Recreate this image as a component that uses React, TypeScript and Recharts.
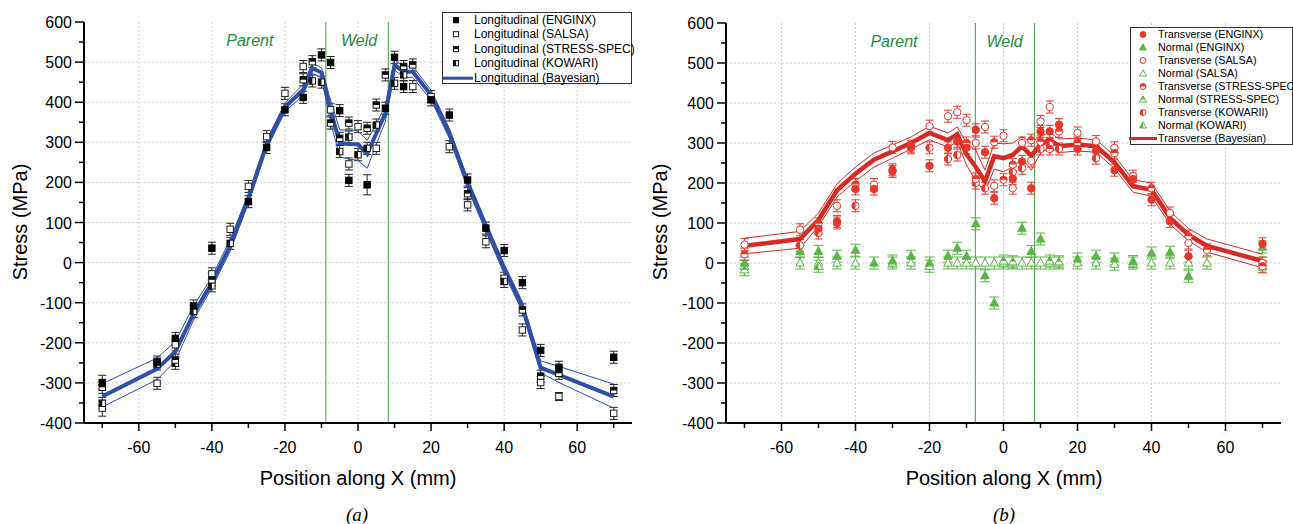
import React from "react";
import {
  ComposedChart,
  Line,
  Scatter,
  XAxis,
  YAxis,
  CartesianGrid,
  ErrorBar,
  ReferenceLine,
  ReferenceDot,
} from "recharts";

const FONT = "'Liberation Sans', Arial, Helvetica, sans-serif";
const SERIF = "'Liberation Serif', 'Times New Roman', serif";

// ---------- axis ticks ----------
const xTicks = [-70, -60, -50, -40, -30, -20, -10, 0, 10, 20, 30, 40, 50, 60, 70];
const xGrid = [-60, -40, -20, 0, 20, 40, 60];
const yTicks = [-400, -350, -300, -250, -200, -150, -100, -50, 0, 50, 100, 150, 200, 250, 300, 350, 400, 450, 500, 550, 600];
const yGrid = [-300, -200, -100, 0, 100, 200, 300, 400, 500];

// ---------- Bayesian fits ----------
const bayesX = [-70, -55, -50, -45, -40, -35, -30, -25, -20, -15, -12.5, -10, -7.5, -5, -2.5, 0, 2.5, 5, 7.5, 10, 12.5, 15, 20, 25, 30, 35, 40, 45, 50, 55, 70];
const longMean = [-334, -265, -222, -128, -50, 42, 160, 295, 388, 431, 485, 474, 380, 298, 296, 295, 271, 322, 372, 493, 476, 476, 418, 323, 198, 90, -15, -110, -262, -280, -334];
const longUpper = [-302, -238, -197, -108, -36, 58, 172, 305, 398, 445, 497, 486, 405, 331, 330, 328, 305, 345, 392, 505, 490, 490, 430, 335, 210, 102, -3, -98, -245, -259, -303];
const longLower = [-360, -292, -245, -143, -63, 28, 148, 283, 376, 418, 472, 460, 350, 264, 258, 255, 235, 295, 352, 480, 462, 462, 405, 310, 185, 78, -28, -122, -275, -299, -363];
const transMean = [43, 60, 108, 182, 223, 258, 279, 300, 325, 307, 322, 272, 240, 204, 267, 262, 270, 292, 268, 296, 308, 292, 296, 292, 252, 192, 183, 113, 70, 43, 5];
const transUpper = [62, 79, 125, 198, 240, 275, 295, 315, 342, 325, 340, 300, 282, 232, 300, 298, 300, 316, 300, 318, 326, 310, 312, 308, 268, 208, 200, 130, 86, 60, 22];
const transLower = [23, 37, 92, 165, 205, 240, 262, 285, 308, 290, 303, 245, 205, 178, 235, 228, 240, 262, 232, 275, 290, 276, 280, 277, 236, 177, 167, 97, 55, 27, -12];

// ---------- measurements [x, stress, error] ----------
type Pt = number[];
const longEnginx: Pt[] = [[-70, -299, 18], [-55, -248], [-50, -189], [-45, -108], [-40, 36], [-30, 152], [-25, 287], [-20, 381], [-15, 412], [-10, 518], [-7.5, 499], [-5, 379], [-2.5, 205], [2.5, 194, 25], [7.5, 385], [10, 512], [12.5, 439], [20, 406], [25, 368], [30, 206], [35, 86], [40, 30], [45, -50], [50, -219], [55, -261], [70, -236]];
const longSalsa: Pt[] = [[-70, -363, 20], [-55, -301], [-50, -205], [-40, -28], [-35, 83], [-30, 190], [-25, 314], [-20, 422], [-15, 489], [-7.5, 381], [-2.5, 246], [0, 339], [5, 285], [15, 439], [20, 414], [25, 289], [30, 144], [35, 52], [40, -39], [45, -168], [50, -299], [55, -334, 10], [70, -376]];
const longStress: Pt[] = [[-70, -311], [-50, -243], [-40, -43], [-15, 456], [-12.5, 501], [-7.5, 348], [-5, 310], [-2.5, 348], [2.5, 335], [5, 393], [7.5, 468], [12.5, 489], [15, 493], [30, 172], [45, -118], [50, -283], [55, -276], [70, -319]];
const longKowari: Pt[] = [[-70, -351], [-55, -253], [-50, -251], [-45, -122], [-40, -58], [-35, 48], [-12.5, 453], [-10, 450], [-5, 277], [-2.5, 313], [0, 269], [2.5, 285], [5, 343], [10, 447], [12.5, 468], [40, -47]];

const transEnginx: Pt[] = [[-50, 86], [-45, 100], [-40, 185], [-35, 185], [-30, 229], [-25, 288], [-20, 243], [-15, 288], [-12.5, 304], [-10, 288], [-7.5, 333], [-5, 277], [-2.5, 162], [2.5, 211], [5, 254], [7.5, 187], [10, 329], [12.5, 329], [15, 346], [20, 285], [25, 280], [30, 232], [35, 210], [40, 158], [45, 104], [50, 17], [70, 48]];
const transSalsa: Pt[] = [[-70, 46], [-55, 83], [-45, 143], [-35, 196], [-30, 289], [-20, 342], [-15, 367], [-12.5, 377], [-10, 357], [-7.5, 300], [-5, 340], [-2.5, 193], [0, 318], [2.5, 187], [5, 300], [7.5, 255], [10, 354], [12.5, 390], [20, 325], [25, 304], [30, 288], [35, 217], [45, 125], [50, 50], [70, 0]];
const transStress: Pt[] = [[-70, 22], [-50, 98], [-45, 104], [-40, 196], [-30, 233], [-25, 292], [-10, 300], [-7.5, 210], [-2.5, 302], [0, 208], [2.5, 246], [7.5, 307], [10, 303], [12.5, 285], [15, 329], [20, 300], [30, 275], [40, 187], [50, 67], [55, 33], [70, -8]];
const transKowari: Pt[] = [[-55, 44], [-50, 75], [-40, 143], [-20, 288], [-15, 260], [-12.5, 270], [-7.5, 200], [-5, 187], [2.5, 227], [5, 237], [10, 285], [12.5, 296], [15, 285], [25, 262]];

const normEnginx: Pt[] = [[-70, 0], [-55, 29], [-50, 29], [-45, 17], [-40, 32], [-35, 0], [-30, 5], [-25, 17], [-20, 0], [-15, 17], [-12.5, 37], [-10, 17], [-7.5, 98], [-5, -32], [-2.5, -100], [5, 87], [7.5, 29], [10, 60], [20, 10], [25, 17], [30, 10], [35, 4], [40, 25], [45, 27], [50, -33], [70, 40]];
const normSalsa: Pt[] = [[-70, -8], [-55, 0], [-50, 0], [-45, 0], [-40, 0], [-30, 0], [-25, 0], [-20, -8], [-15, 0], [-12.5, 0], [-10, 0], [-7.5, 0], [-5, 0], [-2.5, 0], [0, 0], [2.5, 0], [5, 0], [7.5, 0], [10, 0], [12.5, 0], [15, 0], [20, 0], [25, 0], [30, -3], [35, 0], [40, 0], [45, 0], [50, 0], [55, 0], [70, 0]];
const normStress: Pt[] = [[-70, -17], [0, 5], [2.5, 3], [12.5, 5], [15, 3], [70, -10]];
const normKowari: Pt[] = [[-50, -8]];

// ---------- colours ----------
const BLUE = "#2f4ea6";
const RED = "#d62a24";
const RED_M = "#e8362c";
const GREEN = "#5ab546";
const WELD = "#5fa862";
const TXT_GREEN = "#1f8c3e";

const toPts = (arr: Pt[]) => arr.map((p) => ({ x: p[0], y: p[1], e: p[2] ?? 15 }));
const toLine = (ys: number[]) => bayesX.map((x, i) => ({ x, y: ys[i] }));

type Form = "sq" | "ci" | "tr";
type Kind = "fill" | "open" | "top" | "left";

function Marker({ form, kind, color, cx, cy, s = 1 }: { form: Form; kind: Kind; color: string; cx: number; cy: number; s?: number }) {
  if (cx == null || cy == null || isNaN(cx) || isNaN(cy)) return null;
  const fillMain = kind === "fill" ? color : "#fff";
  if (form === "sq") {
    const h = 3.2 * s;
    return (
      <g>
        <rect x={cx - h} y={cy - h} width={2 * h} height={2 * h} fill={fillMain} stroke={color} strokeWidth={1} />
        {kind === "top" && <rect x={cx - h} y={cy - h} width={2 * h} height={h} fill={color} />}
        {kind === "left" && <rect x={cx - h} y={cy - h} width={h} height={2 * h} fill={color} />}
      </g>
    );
  }
  if (form === "ci") {
    const r = 3.7 * s;
    return (
      <g>
        <circle cx={cx} cy={cy} r={r} fill={fillMain} stroke={color} strokeWidth={1} />
        {kind === "top" && <path d={`M${cx - r},${cy} A${r},${r} 0 0 1 ${cx + r},${cy} Z`} fill={color} />}
        {kind === "left" && <path d={`M${cx},${cy - r} A${r},${r} 0 0 0 ${cx},${cy + r} Z`} fill={color} />}
      </g>
    );
  }
  const a = 4.3 * s;
  const t = cy - 4.6 * s;
  const b = cy + 3.1 * s;
  return (
    <g>
      <polygon points={`${cx},${t} ${cx - a},${b} ${cx + a},${b}`} fill={fillMain} stroke={color} strokeWidth={1} />
      {kind === "top" && <polygon points={`${cx},${t} ${cx - a * 0.55},${cy} ${cx + a * 0.55},${cy}`} fill={color} />}
      {kind === "left" && <polygon points={`${cx},${t} ${cx - a},${b} ${cx},${b}`} fill={color} />}
    </g>
  );
}

const XTick = (p: any) => {
  const v = p.payload.value;
  const major = Math.abs(v % 20) === 0;
  return (
    <g>
      <line x1={p.x} x2={p.x} y1={p.y} y2={p.y + (major ? 8 : 5)} stroke="#000" strokeWidth={1.5} />
      {major && (
        <text x={p.x} y={p.y + 30} textAnchor="middle" fontSize={16} fontFamily={FONT} fill="#000">
          {v}
        </text>
      )}
    </g>
  );
};

const YTick = (p: any) => {
  const v = p.payload.value;
  const major = Math.abs(v % 100) === 0;
  return (
    <g>
      <line x1={p.x} x2={p.x - (major ? 9 : 5)} y1={p.y} y2={p.y} stroke="#000" strokeWidth={1.5} />
      {major && (
        <text x={p.x - 12} y={p.y + 6} textAnchor="end" fontSize={16} fontFamily={FONT} fill="#000">
          {v}
        </text>
      )}
    </g>
  );
};

type SeriesDef = { data: Pt[]; form: Form; kind: Kind; color: string; err: string; cap: number };
type LineDef = { ys: number[]; color: string; w: number };

function Panel({
  width,
  top,
  right,
  yw,
  welds,
  series,
  lines,
}: {
  width: number;
  top: number;
  right: number;
  yw: number;
  welds: number[];
  series: SeriesDef[];
  lines: LineDef[];
}) {
  return (
    <ComposedChart width={width} height={524} margin={{ top, right, bottom: 0, left: 0 }}>
      <CartesianGrid stroke="#cfcfcf" strokeDasharray="2 2" verticalValues={xGrid} horizontalValues={yGrid} />
      <XAxis
        type="number"
        dataKey="x"
        domain={[-75, 75]}
        allowDataOverflow
        ticks={xTicks}
        interval={0}
        tick={XTick}
        tickLine={false}
        tickSize={0}
        tickMargin={0}
        axisLine={{ stroke: "#000", strokeWidth: 2 }}
        height={101}
      />
      <YAxis
        type="number"
        dataKey="y"
        domain={[-400, 600]}
        allowDataOverflow
        ticks={yTicks}
        interval={0}
        tick={YTick}
        tickLine={false}
        tickSize={0}
        tickMargin={0}
        axisLine={{ stroke: "#000", strokeWidth: 2 }}
        width={yw}
      />
      {welds.map((w) => (
        <ReferenceLine key={w} x={w} stroke={WELD} strokeWidth={1.2} />
      ))}
      <ReferenceDot x={-29.6} y={555} r={1} fill="none" stroke="none"
        label={{ value: "Parent", position: "center", fill: TXT_GREEN, fontSize: 16, fontStyle: "italic", fontFamily: FONT }} />
      <ReferenceDot x={0.3} y={555} r={1} fill="none" stroke="none"
        label={{ value: "Weld", position: "center", fill: TXT_GREEN, fontSize: 16, fontStyle: "italic", fontFamily: FONT }} />
      {series.map((s, i) => (
        <Scatter
          key={"s" + i}
          data={toPts(s.data)}
          isAnimationActive={false}
          shape={(p: any) => <Marker form={s.form} kind={s.kind} color={s.color} cx={p.cx} cy={p.cy} />}
        >
          <ErrorBar dataKey="e" direction="y" width={s.cap} stroke={s.err} strokeWidth={1} />
        </Scatter>
      ))}
      {lines.map((l, i) => (
        <Line
          key={"l" + i}
          data={toLine(l.ys)}
          dataKey="y"
          type="linear"
          stroke={l.color}
          strokeWidth={l.w}
          dot={false}
          activeDot={false}
          isAnimationActive={false}
        />
      ))}
    </ComposedChart>
  );
}

const leftSeries: SeriesDef[] = [
  { data: longSalsa, form: "sq", kind: "open", color: "#222", err: "#222", cap: 4 },
  { data: longKowari, form: "sq", kind: "left", color: "#111", err: "#222", cap: 4 },
  { data: longStress, form: "sq", kind: "top", color: "#111", err: "#222", cap: 4 },
  { data: longEnginx, form: "sq", kind: "fill", color: "#000", err: "#222", cap: 4 },
];
const leftLines: LineDef[] = [
  { ys: longUpper, color: BLUE, w: 1 },
  { ys: longLower, color: BLUE, w: 1 },
  { ys: longMean, color: BLUE, w: 4 },
];
const rightSeries: SeriesDef[] = [
  { data: normSalsa, form: "tr", kind: "open", color: GREEN, err: GREEN, cap: 5 },
  { data: normStress, form: "tr", kind: "top", color: GREEN, err: GREEN, cap: 5 },
  { data: normKowari, form: "tr", kind: "left", color: GREEN, err: GREEN, cap: 5 },
  { data: normEnginx, form: "tr", kind: "fill", color: GREEN, err: GREEN, cap: 5 },
  { data: transSalsa, form: "ci", kind: "open", color: RED_M, err: RED_M, cap: 4 },
  { data: transKowari, form: "ci", kind: "left", color: RED_M, err: RED_M, cap: 4 },
  { data: transStress, form: "ci", kind: "top", color: RED_M, err: RED_M, cap: 4 },
  { data: transEnginx, form: "ci", kind: "fill", color: RED_M, err: RED_M, cap: 4 },
];
const rightLines: LineDef[] = [
  { ys: transUpper, color: RED, w: 1 },
  { ys: transLower, color: RED, w: 1 },
  { ys: transMean, color: RED, w: 4.5 },
];

const leftLegend = [
  { label: "Longitudinal (ENGINX)", form: "sq" as Form, kind: "fill" as Kind, color: "#000" },
  { label: "Longitudinal (SALSA)", form: "sq" as Form, kind: "open" as Kind, color: "#222" },
  { label: "Longitudinal (STRESS-SPEC)", form: "sq" as Form, kind: "top" as Kind, color: "#111" },
  { label: "Longitudinal (KOWARI)", form: "sq" as Form, kind: "left" as Kind, color: "#111" },
  { label: "Longitudinal (Bayesian)", line: BLUE },
];
const rightLegend = [
  { label: "Transverse (ENGINX)", form: "ci" as Form, kind: "fill" as Kind, color: RED_M },
  { label: "Normal (ENGINX)", form: "tr" as Form, kind: "fill" as Kind, color: GREEN },
  { label: "Transverse (SALSA)", form: "ci" as Form, kind: "open" as Kind, color: RED_M },
  { label: "Normal (SALSA)", form: "tr" as Form, kind: "open" as Kind, color: GREEN },
  { label: "Transverse (STRESS-SPEC", form: "ci" as Form, kind: "top" as Kind, color: RED_M },
  { label: "Normal (STRESS-SPEC)", form: "tr" as Form, kind: "top" as Kind, color: GREEN },
  { label: "Transverse (KOWARII)", form: "ci" as Form, kind: "left" as Kind, color: RED_M },
  { label: "Normal (KOWARI)", form: "tr" as Form, kind: "left" as Kind, color: GREEN },
  { label: "Transverse (Bayesian)", line: RED },
];

function LegendBox({
  items,
  left,
  top,
  width,
  height,
  rowH,
  markX,
  textX,
  lineX0,
  lineX1,
  fontSize,
}: any) {
  return (
    <div
      style={{
        position: "absolute",
        left,
        top,
        width,
        height,
        border: "1px solid #333",
        background: "#fff",
        boxSizing: "border-box",
        fontFamily: FONT,
        fontSize,
      }}
    >
      {items.map((it: any, i: number) => (
        <div key={i} style={{ position: "absolute", left: 0, top: i * rowH, height: rowH, width: 10 }}>
          <svg style={{ position: "absolute", left: lineX0 - 2, top: 0, overflow: "visible" }} width={40} height={rowH}>
            {it.line ? (
              <line x1={2} x2={lineX1 - lineX0 + 2} y1={rowH / 2} y2={rowH / 2} stroke={it.line} strokeWidth={3} />
            ) : (
              <Marker form={it.form} kind={it.kind} color={it.color} cx={markX - lineX0 + 2} cy={rowH / 2} s={0.8} />
            )}
          </svg>
          <div style={{ position: "absolute", left: textX, top: 0, lineHeight: rowH + "px", whiteSpace: "nowrap", color: "#000" }}>
            {it.label}
          </div>
        </div>
      ))}
    </div>
  );
}

const centered = (x: number, y: number, w: number, h: number) => ({
  position: "absolute" as const,
  left: x - w / 2,
  top: y - h / 2,
  width: w,
  height: h,
  lineHeight: h + "px",
  textAlign: "center" as const,
  whiteSpace: "nowrap" as const,
});

export default function App() {
  return (
    <div style={{ position: "absolute", left: 0, top: 0, width: 1293, height: 524, overflow: "hidden", background: "#fff" }}>
      <div style={{ position: "absolute", left: 0, top: 0 }}>
        <Panel width={640} top={22} right={8} yw={84} welds={[-8.8, 8.3]} series={leftSeries} lines={leftLines} />
      </div>
      <div style={{ position: "absolute", left: 640, top: 0 }}>
        <Panel width={653} top={23} right={12} yw={86} welds={[-7.6, 8.4]} series={rightSeries} lines={rightLines} />
      </div>

      <LegendBox items={leftLegend} left={442} top={12} width={190} height={72} rowH={14.4}
        markX={13} textX={31} lineX0={0} lineX1={30} fontSize={12} />
      <LegendBox items={rightLegend} left={1130} top={27} width={163} height={118} rowH={13}
        markX={12} textX={27} lineX0={-2} lineX1={26} fontSize={10.8} />

      <div style={{ ...centered(20, 222, 200, 24), transform: "rotate(-90deg)", fontFamily: FONT, fontSize: 20 }}>Stress (MPa)</div>
      <div style={{ ...centered(660, 222, 200, 24), transform: "rotate(-90deg)", fontFamily: FONT, fontSize: 20 }}>Stress (MPa)</div>
      <div style={{ ...centered(358, 478, 300, 24), fontFamily: FONT, fontSize: 20 }}>Position along X (mm)</div>
      <div style={{ ...centered(1004, 478, 300, 24), fontFamily: FONT, fontSize: 20 }}>Position along X (mm)</div>
      <div style={{ ...centered(357, 515, 60, 22), fontFamily: SERIF, fontSize: 19, fontStyle: "italic" }}>(a)</div>
      <div style={{ ...centered(1004, 515, 60, 22), fontFamily: SERIF, fontSize: 19, fontStyle: "italic" }}>(b)</div>
    </div>
  );
}
